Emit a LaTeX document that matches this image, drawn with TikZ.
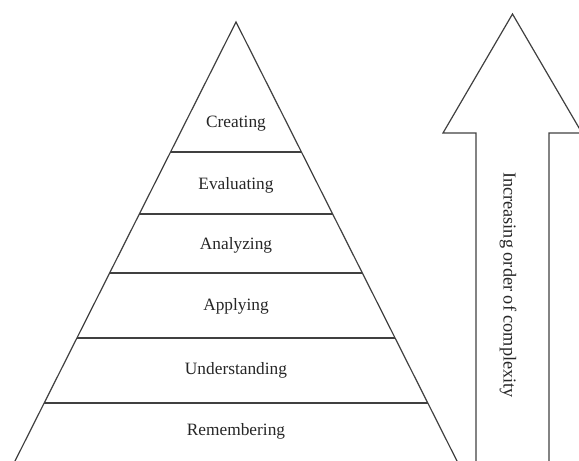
\documentclass[tikz,border=0pt]{standalone}
\usepackage{fontspec}
\setmainfont{Liberation Serif}
\usepackage{xcolor}

\begin{document}
\begin{tikzpicture}[x=0.75pt,y=-0.75pt,
  edge/.style={line width=0.9pt,black!75},
  lvl/.style={inner sep=2pt,black!85,font=\fontsize{13}{15}\selectfont}]
\clip (0,0) rectangle (579,461);
% pyramid sides
\draw[edge] (14,463)--(236,22)--(458,463);
\draw[edge] (170.6,152)--(301.4,152);
\draw[edge] (139.4,214)--(332.6,214);
\draw[edge] (109.7,273)--(362.3,273);
\draw[edge] (77.1,338)--(394.9,338);
\draw[edge] (44.4,403)--(427.6,403);
\node[lvl] (creating) at (236,124) {Creating};
\node[lvl] (evaluating) at (236,185) {Evaluating};
\node[lvl] (analyzing) at (236,245) {Analyzing};
\node[lvl] (applying) at (236,306) {Applying};
\node[lvl] (understanding) at (236,370) {Understanding};
\node[lvl] (remembering) at (236,431) {Remembering};
% big arrow on the right
\draw[edge] (476,470)--(476,133)--(443,133)--(512.5,14)--(582,133)--(549,133)--(549,470);
\node[lvl,rotate=-90,font=\fontsize{13.7}{15}\selectfont] (complexity) at (508,285) {Increasing order of complexity};
\end{tikzpicture}
\end{document}
